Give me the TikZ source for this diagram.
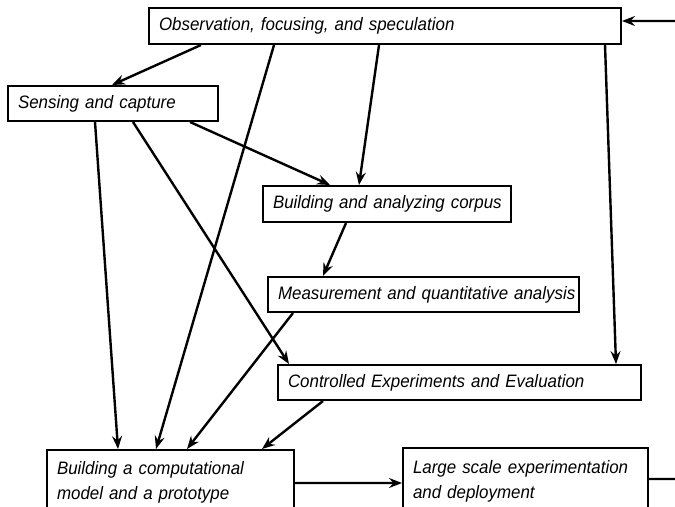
\documentclass[tikz,border=0pt]{standalone}
\usepackage{fontspec}
\setmainfont{Liberation Sans}
\newfontfamily\stagefamily[FakeStretch=0.94]{Liberation Sans}
\usetikzlibrary{arrows.meta}
\newcommand{\stagefont}{\stagefamily\fontsize{18bp}{25bp}\selectfont\itshape}
\begin{document}
\begin{tikzpicture}[x=1bp, y=-1bp,
  stagebox/.style={draw, line width=2bp, anchor=north west, align=left,
    inner xsep=10bp, inner ysep=0bp, font=\stagefont},
  flow/.style={line width=2.4bp, -{Stealth[length=13bp, width=10bp, inset=4.5bp]}},
  plainline/.style={line width=2.4bp}]
  \clip (0,0) rectangle (675,507);
  \useasboundingbox (0,0) rectangle (675,507);

  % stages (each line kept whole with \mbox)
  \node[stagebox, text width=452bp, minimum height=36bp] (obs) at (148,7)
    {\mbox{Observation, focusing, and speculation}};
  \node[stagebox, text width=190bp, minimum height=35bp] (sens) at (7,85)
    {\mbox{Sensing and capture}};
  \node[stagebox, text width=228bp, minimum height=36bp] (corp) at (262,185)
    {\mbox{Building and analyzing corpus}};
  \node[stagebox, text width=291bp, minimum height=35bp] (meas) at (267,276)
    {\mbox{Measurement and quantitative analysis}};
  \node[stagebox, text width=343bp, minimum height=35bp] (ctrl) at (277,364)
    {\mbox{Controlled Experiments and Evaluation}};
  \node[stagebox, text width=227bp, minimum height=64bp] (comp) at (46,449)
    {\mbox{Building a computational}\\\mbox{model and a prototype}};
  \node[stagebox, text width=225bp, minimum height=66bp] (large) at (402,447)
    {\mbox{Large scale experimentation}\\\mbox{and deployment}};

  % loose ends at the right margin
  \coordinate (loopin) at (675,21);
  \coordinate (loopout) at (675,479);

  % connectors
  \draw[flow] ([xshift=53bp]obs.south west) -- ([xshift=105bp]sens.north west);
  \draw[flow] ([xshift=126bp]obs.south west) -- ([xshift=110bp]comp.north west);
  \draw[flow] ([xshift=231bp]obs.south west) -- ([xshift=97bp]corp.north west);
  \draw[flow] ([xshift=457bp]obs.south west) -- ([xshift=339bp]ctrl.north west);
  \draw[flow] ([xshift=88bp]sens.south west) -- ([xshift=72bp]comp.north west);
  \draw[flow] ([xshift=126bp]sens.south west) -- ([xshift=12bp]ctrl.north west);
  \draw[flow] ([xshift=183bp]sens.south west) -- ([xshift=68bp]corp.north west);
  \draw[flow] ([xshift=84bp]corp.south west) -- ([xshift=56bp]meas.north west);
  \draw[flow] ([xshift=26bp]meas.south west) -- ([xshift=141bp]comp.north west);
  \draw[flow] ([xshift=46bp]ctrl.south west) -- ([xshift=216bp]comp.north west);
  \draw[flow] ([yshift=-34bp]comp.north east) -- ([yshift=-36bp]large.north west);
  \draw[plainline] ([yshift=-32bp]large.north east) -- (loopout);
  \draw[flow] (loopin) -- ([yshift=-14bp]obs.north east);
\end{tikzpicture}
\end{document}
